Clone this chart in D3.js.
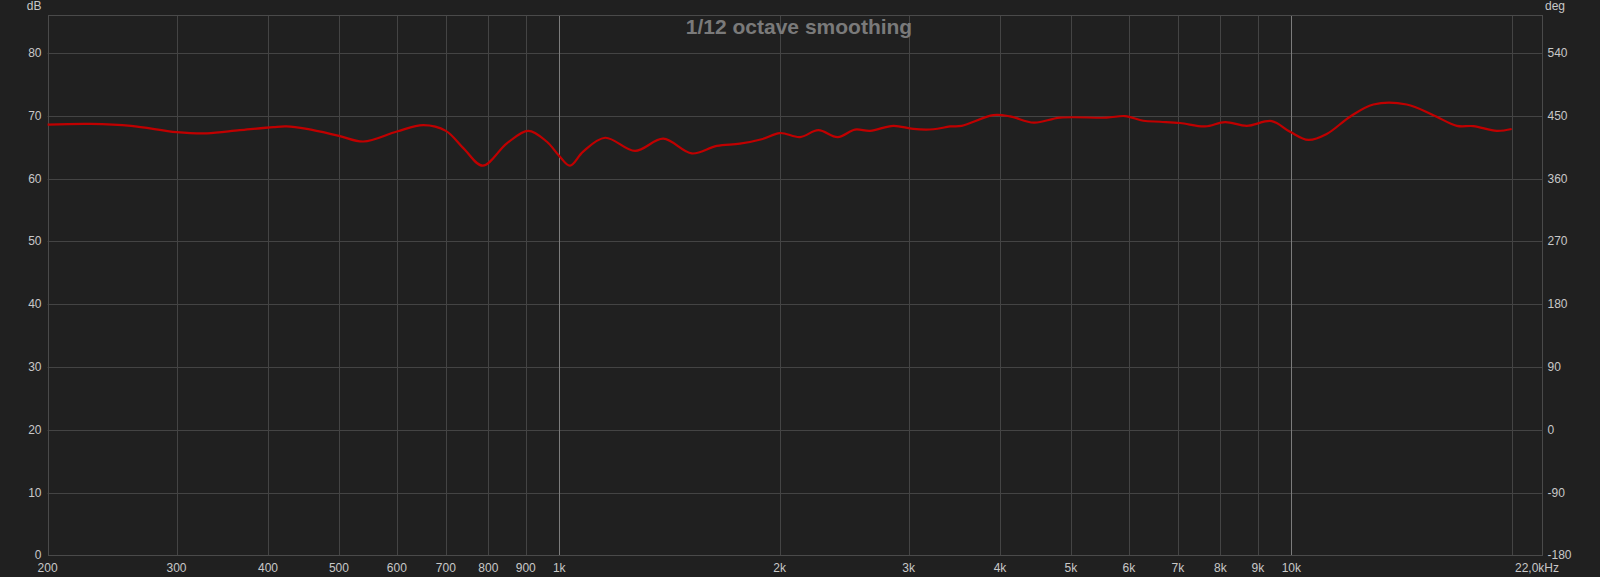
<!DOCTYPE html>
<html>
<head>
<meta charset="utf-8">
<script src="https://cdn.jsdelivr.net/npm/d3@7"></script>
<style>
  html, body { margin: 0; padding: 0; background: #202020; }
  svg { display: block; }
  text { font-family: "Liberation Sans", Arial, sans-serif; }
</style>
</head>
<body>
<svg id="chart" width="1600" height="577"></svg>
<script>
// ---- data ----
const freqs = [200, 229, 260, 300, 330, 366, 407, 424, 452, 500, 540, 600, 652, 700, 740, 786, 848, 907, 961,
  1000, 1034, 1078, 1155, 1269, 1387, 1517, 1641, 1765, 1890, 2002, 2132, 2259, 2401, 2535, 2658, 2860,
  3045, 3244, 3418, 3546, 3917, 4128, 4450, 4831, 5596, 5927, 6278, 6617, 7047, 7625, 8117, 8692, 9402,
  9959, 10549, 11177, 12029, 12942, 14377, 15631, 16827, 17729, 19082, 20000];
const dbValues = [68.6, 68.7, 68.4, 67.4, 67.2, 67.7, 68.2, 68.3, 67.9, 66.8, 65.9, 67.5, 68.5, 67.6, 64.8, 62.05, 65.6, 67.6, 65.9,
  63.6, 62.05, 64.3, 66.5, 64.4, 66.35, 64.0, 65.2, 65.55, 66.25, 67.25, 66.6, 67.7, 66.6, 67.8, 67.6, 68.4,
  67.9, 67.85, 68.3, 68.4, 70.1, 69.9, 68.9, 69.7, 69.7, 69.95, 69.2, 69.05, 68.85, 68.3, 69.0, 68.4, 69.15,
  67.45, 66.15, 67.1, 69.85, 71.8, 71.8, 70.1, 68.4, 68.35, 67.6, 67.9];

const xGridFreqs = [300, 400, 500, 600, 700, 800, 900, 1000, 2000, 3000, 4000, 5000, 6000, 7000, 8000, 9000, 10000, 20000];
const xTickFreqs = [200, 300, 400, 500, 600, 700, 800, 900, 1000, 2000, 3000, 4000, 5000, 6000, 7000, 8000, 9000, 10000, 22000];
const xTickLabels = ["200", "300", "400", "500", "600", "700", "800", "900", "1k", "2k", "3k", "4k", "5k", "6k", "7k", "8k", "9k", "10k", "22,0kHz"];
const brightFreqs = [1000, 10000];
const dbTicks = [0, 10, 20, 30, 40, 50, 60, 70, 80];
const degTicks = [-180, -90, 0, 90, 180, 270, 360, 450, 540];
const title = "1/12 octave smoothing";

// ---- layout ----
const L = 47.6, R = 1542, T = 15.3, B = 555.3;
const svg = d3.select("#chart");
svg.append("rect").attr("width", 1600).attr("height", 577).attr("fill", "#202020");

const x = d3.scaleLog().domain([200, 22000]).range([L, R]);
const y = d3.scaleLinear().domain([0, 86]).range([B, T]);
const yDeg = d3.scaleLinear().domain([-180, 594]).range([B, T]);

const grid = svg.append("g");
grid.selectAll("line.h").data(dbTicks.filter(d => d > 0)).join("line")
  .attr("x1", L).attr("x2", R)
  .attr("y1", d => Math.round(y(d)) + 0.5).attr("y2", d => Math.round(y(d)) + 0.5)
  .attr("stroke", "#444").attr("stroke-width", 1);
grid.selectAll("line.v").data(xGridFreqs).join("line")
  .attr("x1", d => Math.round(x(d)) + 0.5).attr("x2", d => Math.round(x(d)) + 0.5)
  .attr("y1", T).attr("y2", B)
  .attr("stroke", d => brightFreqs.includes(d) ? "#7c7c7c" : "#444").attr("stroke-width", 1);
grid.append("rect")
  .attr("x", Math.round(L) + 0.5).attr("y", Math.round(T) + 0.5)
  .attr("width", Math.round(R) - Math.round(L)).attr("height", Math.round(B) - Math.round(T))
  .attr("fill", "none").attr("stroke", "#4a4a4a");

// title
svg.append("text").attr("x", 799).attr("y", 34)
  .attr("text-anchor", "middle").attr("font-size", 21).attr("font-weight", "bold")
  .attr("fill", "#7a7a7a").text(title);

// left axis labels
svg.selectAll("text.yl").data(dbTicks).join("text")
  .attr("x", 41.5).attr("y", d => y(d) + 4)
  .attr("text-anchor", "end").attr("font-size", 12).attr("fill", "#c8c8c8")
  .text(d => d);
svg.append("text").attr("x", 41.5).attr("y", 10).attr("text-anchor", "end")
  .attr("font-size", 12).attr("fill", "#c8c8c8").text("dB");

// right axis labels
svg.selectAll("text.yr").data(degTicks).join("text")
  .attr("x", 1547.5).attr("y", d => yDeg(d) + 4)
  .attr("text-anchor", "start").attr("font-size", 12).attr("fill", "#c8c8c8")
  .text(d => d);
svg.append("text").attr("x", 1545).attr("y", 10).attr("text-anchor", "start")
  .attr("font-size", 12).attr("fill", "#c8c8c8").text("deg");

// x labels
svg.selectAll("text.xl").data(xTickFreqs).join("text")
  .attr("x", (d, i) => i === xTickFreqs.length - 1 ? x(d) - 5 : x(d))
  .attr("y", 571.5)
  .attr("text-anchor", "middle").attr("font-size", 12).attr("fill", "#c8c8c8")
  .text((d, i) => xTickLabels[i]);

// curve
const pts = freqs.map((f, i) => [f, dbValues[i]]);
const line = d3.line().x(d => x(d[0])).y(d => y(d[1])).curve(d3.curveCatmullRom.alpha(0.5));
svg.append("path").attr("d", line(pts))
  .attr("fill", "none").attr("stroke", "#c00000").attr("stroke-width", 2.2)
  .attr("stroke-linejoin", "round");
</script>
</body>
</html>
